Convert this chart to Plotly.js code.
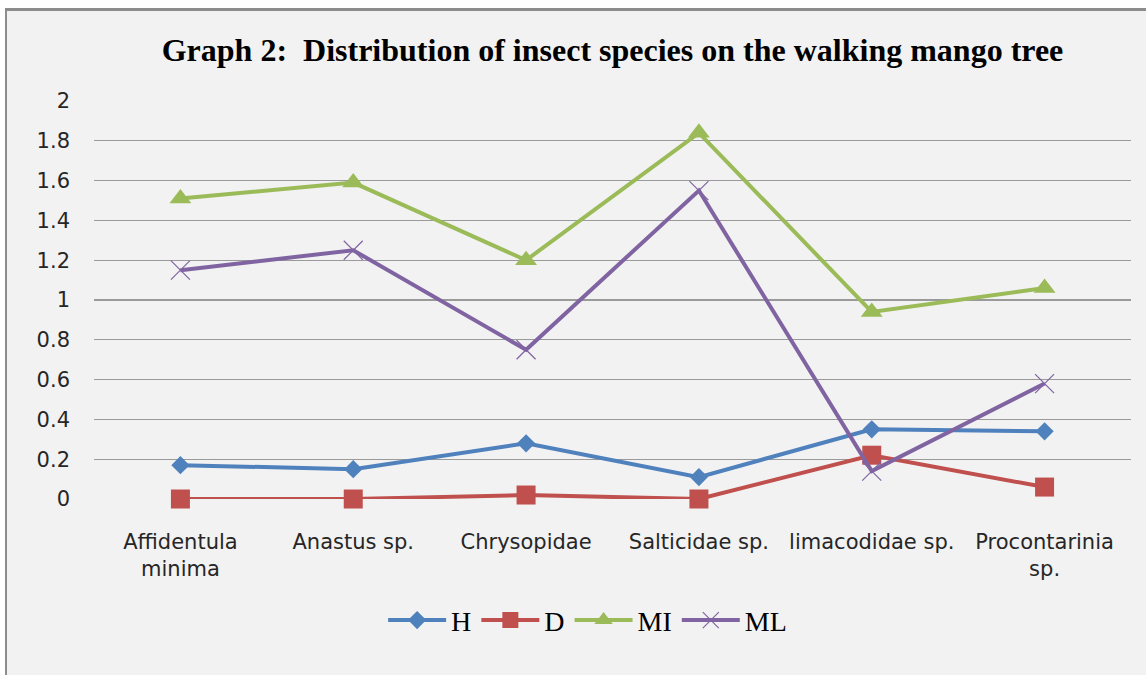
<!DOCTYPE html>
<html>
<head>
<meta charset="utf-8">
<script src="https://cdn.plot.ly/plotly-3.0.1.min.js"></script>
<style>
  html, body { margin: 0; padding: 0; background: #ffffff; width: 1146px; height: 675px; overflow: hidden; }
  #frame { position: absolute; left: 5px; top: 8px; border-left: 2px solid #8c8c8c; border-top: 3px solid #8c8c8c; background: #f2f2f2; }
  #chart { width: 1139px; height: 664px; }
</style>
</head>
<body>
<div id="frame"><div id="chart"></div></div>
<script>
const categories = ['Affidentula<br>minima', 'Anastus sp.', 'Chrysopidae', 'Salticidae sp.', 'limacodidae sp.', 'Procontarinia<br>sp.'];
const seriesNames = ['H', 'D', 'MI', 'ML'];
const H  = [0.17, 0.15, 0.28, 0.11, 0.35, 0.34];
const D  = [0.00, 0.00, 0.02, 0.00, 0.22, 0.06];
const MI = [1.51, 1.59, 1.20, 1.84, 0.94, 1.06];
const ML = [1.15, 1.25, 0.75, 1.55, 0.14, 0.58];
const yTicks = [0, 0.2, 0.4, 0.6, 0.8, 1, 1.2, 1.4, 1.6, 1.8, 2];

const xIdx = categories.map((c, i) => i);

function tr(name, y, color, symbol, size, mline) {
  return {
    type: 'scatter', mode: 'lines+markers', name: name,
    x: xIdx, y: y,
    line: { color: color, width: 4 },
    marker: { symbol: symbol, size: size, color: color, line: mline || { width: 0 } },
    cliponaxis: false
  };
}

const data = [
  tr(seriesNames[0], H, '#4f81bd', 'diamond', 14),
  tr(seriesNames[1], D, '#c0504d', 'square', 19),
  tr(seriesNames[2], MI, '#9bbb59', 'triangle-up', 19),
  tr(seriesNames[3], ML, '#8064a2', 'x-thin-open', 19, { color: '#9d87bd', width: 1.2 })
];

const layout = {
  width: 1139, height: 664,
  margin: { l: 87, r: 15, t: 90, b: 176 },
  paper_bgcolor: '#f2f2f2',
  plot_bgcolor: '#f2f2f2',
  title: {
    text: '<b>Graph 2:  Distribution of insect species on the walking mango tree</b>',
    font: { family: 'Liberation Serif', size: 32, color: '#000000' },
    xref: 'paper', x: 0.5, xanchor: 'center',
    yref: 'container', y: 0.941, yanchor: 'middle'
  },
  xaxis: {
    type: 'linear', range: [-0.5, 5.5],
    tickmode: 'array', tickvals: xIdx, ticktext: categories,
    showgrid: false, zeroline: false, showline: false, ticks: '',
    ticklabelstandoff: 28,
    tickfont: { family: 'DejaVu Sans', size: 21, color: '#262626' }
  },
  yaxis: {
    range: [0, 2], tickmode: 'array', tickvals: yTicks,
    showgrid: true, gridcolor: '#9a9a9a', gridwidth: 1.2,
    zeroline: false, showline: false, ticks: '',
    ticklabelstandoff: 23,
    tickfont: { family: 'DejaVu Sans', size: 21, color: '#262626' }
  },
  showlegend: true,
  legend: {
    orientation: 'h', x: 0.476, xanchor: 'center', y: -0.305, yanchor: 'middle',
    font: { family: 'Liberation Serif', size: 28, color: '#000000' },
    bgcolor: 'rgba(0,0,0,0)', itemwidth: 58, tracegroupgap: 0
  }
};

Plotly.newPlot('chart', data, layout, { displayModeBar: false, staticPlot: true });
</script>
</body>
</html>
